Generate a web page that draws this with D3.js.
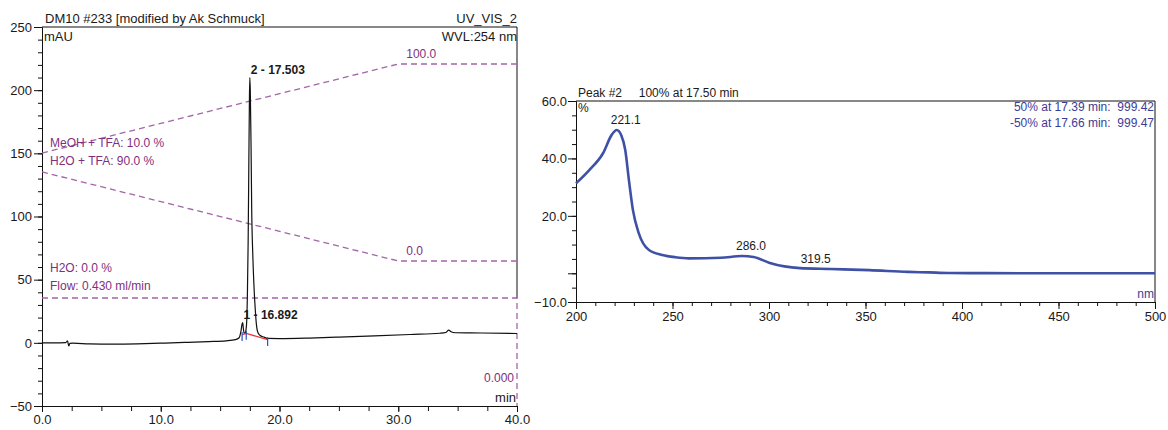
<!DOCTYPE html>
<html>
<head>
<meta charset="utf-8">
<script src="https://cdn.jsdelivr.net/npm/d3@7"></script>
<style>
  body { margin: 0; background: #fff; }
  svg { font-family: "Liberation Sans", Arial, sans-serif; }
  .axis path, .axis line { stroke: #111; }
  .axis text { fill: #1a1a1a; font-size: 13px; }
</style>
</head>
<body>
<div id="chart"></div>
<script>
// chromatogram (UV_VIS_2, 254 nm)
var chromTime = [0, 1.0, 2.0, 2.15, 2.25, 2.35, 2.6, 4, 6, 8, 10, 12, 14, 15.5, 16.3, 16.6, 16.75, 16.85, 16.9, 16.96,
  17.02, 17.12, 17.22, 17.3, 17.36, 17.42, 17.47, 17.503, 17.54, 17.6, 17.66, 17.75, 17.85, 17.95, 18.05, 18.15, 18.35,
  18.7, 19.0, 20, 22.5, 25, 28, 31, 33.5, 34.0, 34.25, 34.45, 34.8, 37, 40];
var chromMAU = [0, 0, 0.2, 1.5, -2.5, -0.5, -0.3, -0.8, -1.0, -0.8, -0.3, 0.3, 1.0, 1.6, 2.5, 4, 9, 15, 16, 11,
  7.5, 8, 14, 40, 80, 145, 195, 210, 200, 160, 105, 70, 45, 28, 15, 9, 6,
  4.5, 3.5, 3.4, 3.8, 4.5, 5.5, 6.6, 7.6, 8.2, 10, 8.8, 8.0, 7.8, 7.4];

// integration baseline + delimiters
var baseTime = [16.85, 17.2, 19.0];
var baseMAU = [6.5, 7.5, 2.5];

// gradient program
var gradTime = [0, 30, 40];
var meohPct = [10, 100, 100];
var waterPct = [90, 0, 0];
var flowTime = [0, 40, 40];
var flowRate = [0.43, 0.43, 0];

var peakLabels = [
  { t: 16.892, v: 16, text: '1 - 16.892' },
  { t: 17.503, v: 210, text: '2 - 17.503' }
];

// UV spectrum of peak #2
var specNm = [200, 207, 214, 218.5, 221.1, 223.5, 225.5, 227.5, 229.5, 232.5, 237.8, 244.7, 251.5, 258.5, 275, 286, 292,
  300, 308, 316, 332, 352, 372, 383, 393, 413, 450, 500];
var specPct = [31.3, 36, 41.8, 48.2, 49.9, 48, 43, 32, 22, 14, 8.1, 6.4, 5.6, 5.2, 5.4, 6.0, 5.7,
  3.7, 2.4, 1.8, 1.5, 1.1, 0.5, 0.3, 0.1, 0.05, 0, 0];
var specLabels = [
  { nm: 221.1, text: '221.1' },
  { nm: 286.0, text: '286.0' },
  { nm: 319.5, text: '319.5' }
];

var PURPLE_LINE = '#a266a8';
var PURPLE_TEXT = '#7f2f80';
var BLUE_LINE = '#3f51a6';
var BLUE_TEXT = '#3c3c98';

var svg = d3.select('#chart').append('svg')
  .attr('width', 1168)
  .attr('height', 430);

// ---------- left: chromatogram ----------
var L = { x0: 42, x1: 517, yTop: 27, yBot: 406 };
var x = d3.scaleLinear().domain([0, 40]).range([L.x0, L.x1]);
var y = d3.scaleLinear().domain([-50, 250]).range([L.yBot, L.yTop]);
var yMeoh = d3.scaleLinear().domain([0, 100]).range([163, 64]);
var yWater = d3.scaleLinear().domain([0, 100]).range([261, 162]);
var yFlow = d3.scaleLinear().domain([0, 0.43]).range([L.yBot, 298]);

var left = svg.append('g');

left.append('g').attr('class', 'axis')
  .attr('transform', 'translate(' + L.x0 + ',0)')
  .call(d3.axisLeft(y).tickValues(d3.range(-50, 251, 10)).tickSize(4).tickFormat('').tickSizeOuter(0));
left.append('g').attr('class', 'axis')
  .attr('transform', 'translate(' + L.x0 + ',0)')
  .call(d3.axisLeft(y).tickValues(d3.range(-50, 251, 50)).tickSize(8).tickPadding(2).tickSizeOuter(0));

left.append('g').attr('class', 'axis')
  .attr('transform', 'translate(0,' + L.yBot + ')')
  .call(d3.axisBottom(x).tickValues(d3.range(0, 40.1, 2.5)).tickSize(5).tickFormat('').tickSizeOuter(0));
left.append('g').attr('class', 'axis')
  .attr('transform', 'translate(0,' + L.yBot + ')')
  .call(d3.axisBottom(x).tickValues(d3.range(0, 40.1, 10)).tickSize(6).tickPadding(3)
    .tickFormat(d3.format('.1f')).tickSizeOuter(0));

// frame
left.append('line').attr('x1', L.x0).attr('x2', L.x1).attr('y1', L.yTop).attr('y2', L.yTop).attr('stroke', '#111');
left.append('line').attr('x1', L.x1).attr('x2', L.x1).attr('y1', L.yTop).attr('y2', yFlow(0.43)).attr('stroke', '#111');

// gradient traces
function dashed(g, xs, ys, sx, sy) {
  var pts = xs.map(function(t, i) { return [sx(t), sy(ys[i])]; });
  g.append('path')
    .attr('d', d3.line()(pts))
    .attr('fill', 'none')
    .attr('stroke', PURPLE_LINE)
    .attr('stroke-width', 1.3)
    .attr('stroke-dasharray', '6,4');
}
dashed(left, gradTime, meohPct, x, yMeoh);
dashed(left, gradTime, waterPct, x, yWater);
dashed(left, flowTime, flowRate, x, yFlow);

// chromatogram trace
var chromPts = chromTime.map(function(t, i) { return [x(t), y(chromMAU[i])]; });
left.append('path')
  .attr('d', d3.line().curve(d3.curveMonotoneX)(chromPts))
  .attr('fill', 'none')
  .attr('stroke', '#111')
  .attr('stroke-width', 1.2);

// baseline
left.append('path')
  .attr('d', d3.line()(baseTime.map(function(t, i) { return [x(t), y(baseMAU[i])]; })))
  .attr('fill', 'none')
  .attr('stroke', '#e8383a')
  .attr('stroke-width', 1.3);
baseTime.forEach(function(t, i) {
  left.append('line')
    .attr('x1', x(t)).attr('x2', x(t))
    .attr('y1', y(baseMAU[i] + 2)).attr('y2', y(baseMAU[i] - 5))
    .attr('stroke', '#2c4fc4').attr('stroke-width', 1.2);
});

function label(g, px, py, txt, opts) {
  opts = opts || {};
  return g.append('text')
    .attr('x', px).attr('y', py)
    .attr('text-anchor', opts.anchor || 'start')
    .attr('font-size', (opts.size || 13) + 'px')
    .attr('font-weight', opts.bold ? 'bold' : 'normal')
    .attr('fill', opts.color || '#1a1a1a')
    .text(txt);
}

peakLabels.forEach(function(p) {
  label(left, x(p.t) + 1, y(p.v) - 4, p.text, { bold: true, size: 12 });
});

label(left, L.x0 + 3, 23, 'DM10 #233 [modified by Ak Schmuck]');
label(left, L.x1, 23, 'UV_VIS_2', { anchor: 'end' });
label(left, L.x0 + 2, 41, 'mAU');
label(left, L.x1, 41, 'WVL:254 nm', { anchor: 'end' });
label(left, L.x1 - 1, 402, 'min', { anchor: 'end' });

label(left, x(30) + 8, yMeoh(100) - 6, '100.0', { color: PURPLE_TEXT, size: 12 });
label(left, x(30) + 8, yWater(0) - 6, '0.0', { color: PURPLE_TEXT, size: 12 });
label(left, L.x1 - 3, 382, '0.000', { color: PURPLE_TEXT, size: 12, anchor: 'end' });
label(left, L.x0 + 8, 147, 'MeOH + TFA: 10.0 %', { color: PURPLE_TEXT, size: 12 });
label(left, L.x0 + 8, 165, 'H2O + TFA: 90.0 %', { color: PURPLE_TEXT, size: 12 });
label(left, L.x0 + 8, 272, 'H2O: 0.0 %', { color: PURPLE_TEXT, size: 12 });
label(left, L.x0 + 8, 290, 'Flow: 0.430 ml/min', { color: PURPLE_TEXT, size: 12 });

// ---------- right: UV spectrum ----------
var R = { x0: 576, x1: 1155, yTop: 101, yBot: 302 };
var sx = d3.scaleLinear().domain([200, 500]).range([R.x0, R.x1]);
var sy = d3.scaleLinear().domain([-10, 60]).range([R.yBot, R.yTop]);

var right = svg.append('g');

right.append('g').attr('class', 'axis')
  .attr('transform', 'translate(' + R.x0 + ',0)')
  .call(d3.axisLeft(sy).tickValues(d3.range(-10, 61, 5)).tickSize(4).tickFormat('').tickSizeOuter(0));
right.append('g').attr('class', 'axis')
  .attr('transform', 'translate(' + R.x0 + ',0)')
  .call(d3.axisLeft(sy).tickValues([-10, 0, 20, 40, 60]).tickSize(8).tickPadding(1).tickSizeOuter(0)
    .tickFormat(function(d) { return d === 0 ? '' : d3.format('.1f')(d); }));

right.append('g').attr('class', 'axis')
  .attr('transform', 'translate(0,' + R.yBot + ')')
  .call(d3.axisBottom(sx).tickValues(d3.range(200, 501, 10)).tickSize(4).tickFormat('').tickSizeOuter(0));
right.append('g').attr('class', 'axis')
  .attr('transform', 'translate(0,' + R.yBot + ')')
  .call(d3.axisBottom(sx).tickValues(d3.range(200, 501, 50)).tickSize(7).tickPadding(3).tickSizeOuter(0));

right.append('line').attr('x1', R.x0).attr('x2', R.x1).attr('y1', R.yTop).attr('y2', R.yTop).attr('stroke', '#111');
right.append('line').attr('x1', R.x1).attr('x2', R.x1).attr('y1', R.yTop).attr('y2', R.yBot).attr('stroke', '#111');

var specPts = specNm.map(function(n, i) { return [sx(n), sy(specPct[i])]; });
right.append('path')
  .attr('d', d3.line().curve(d3.curveMonotoneX)(specPts))
  .attr('fill', 'none')
  .attr('stroke', BLUE_LINE)
  .attr('stroke-width', 2.6)
  .attr('stroke-linejoin', 'round');

specLabels.forEach(function(s) {
  var i = d3.bisectLeft(specNm, s.nm);
  var v = specPct[Math.min(i, specPct.length - 1)];
  label(right, sx(s.nm) - 6, sy(v) - 6, s.text, { size: 12 });
});

label(right, R.x0 + 2, 97, 'Peak #2     100% at 17.50 min', { size: 12 }).style('white-space', 'pre');
label(right, R.x0 + 2, 112, '%', { size: 12 });
label(right, R.x1 - 1, 111, '50% at 17.39 min:  999.42', { size: 12, anchor: 'end', color: BLUE_TEXT }).style('white-space', 'pre');
label(right, R.x1 - 1, 127, '-50% at 17.66 min:  999.47', { size: 12, anchor: 'end', color: BLUE_TEXT }).style('white-space', 'pre');
label(right, R.x1 - 1, 298, 'nm', { size: 12, anchor: 'end', color: BLUE_TEXT });
</script>
</body>
</html>
